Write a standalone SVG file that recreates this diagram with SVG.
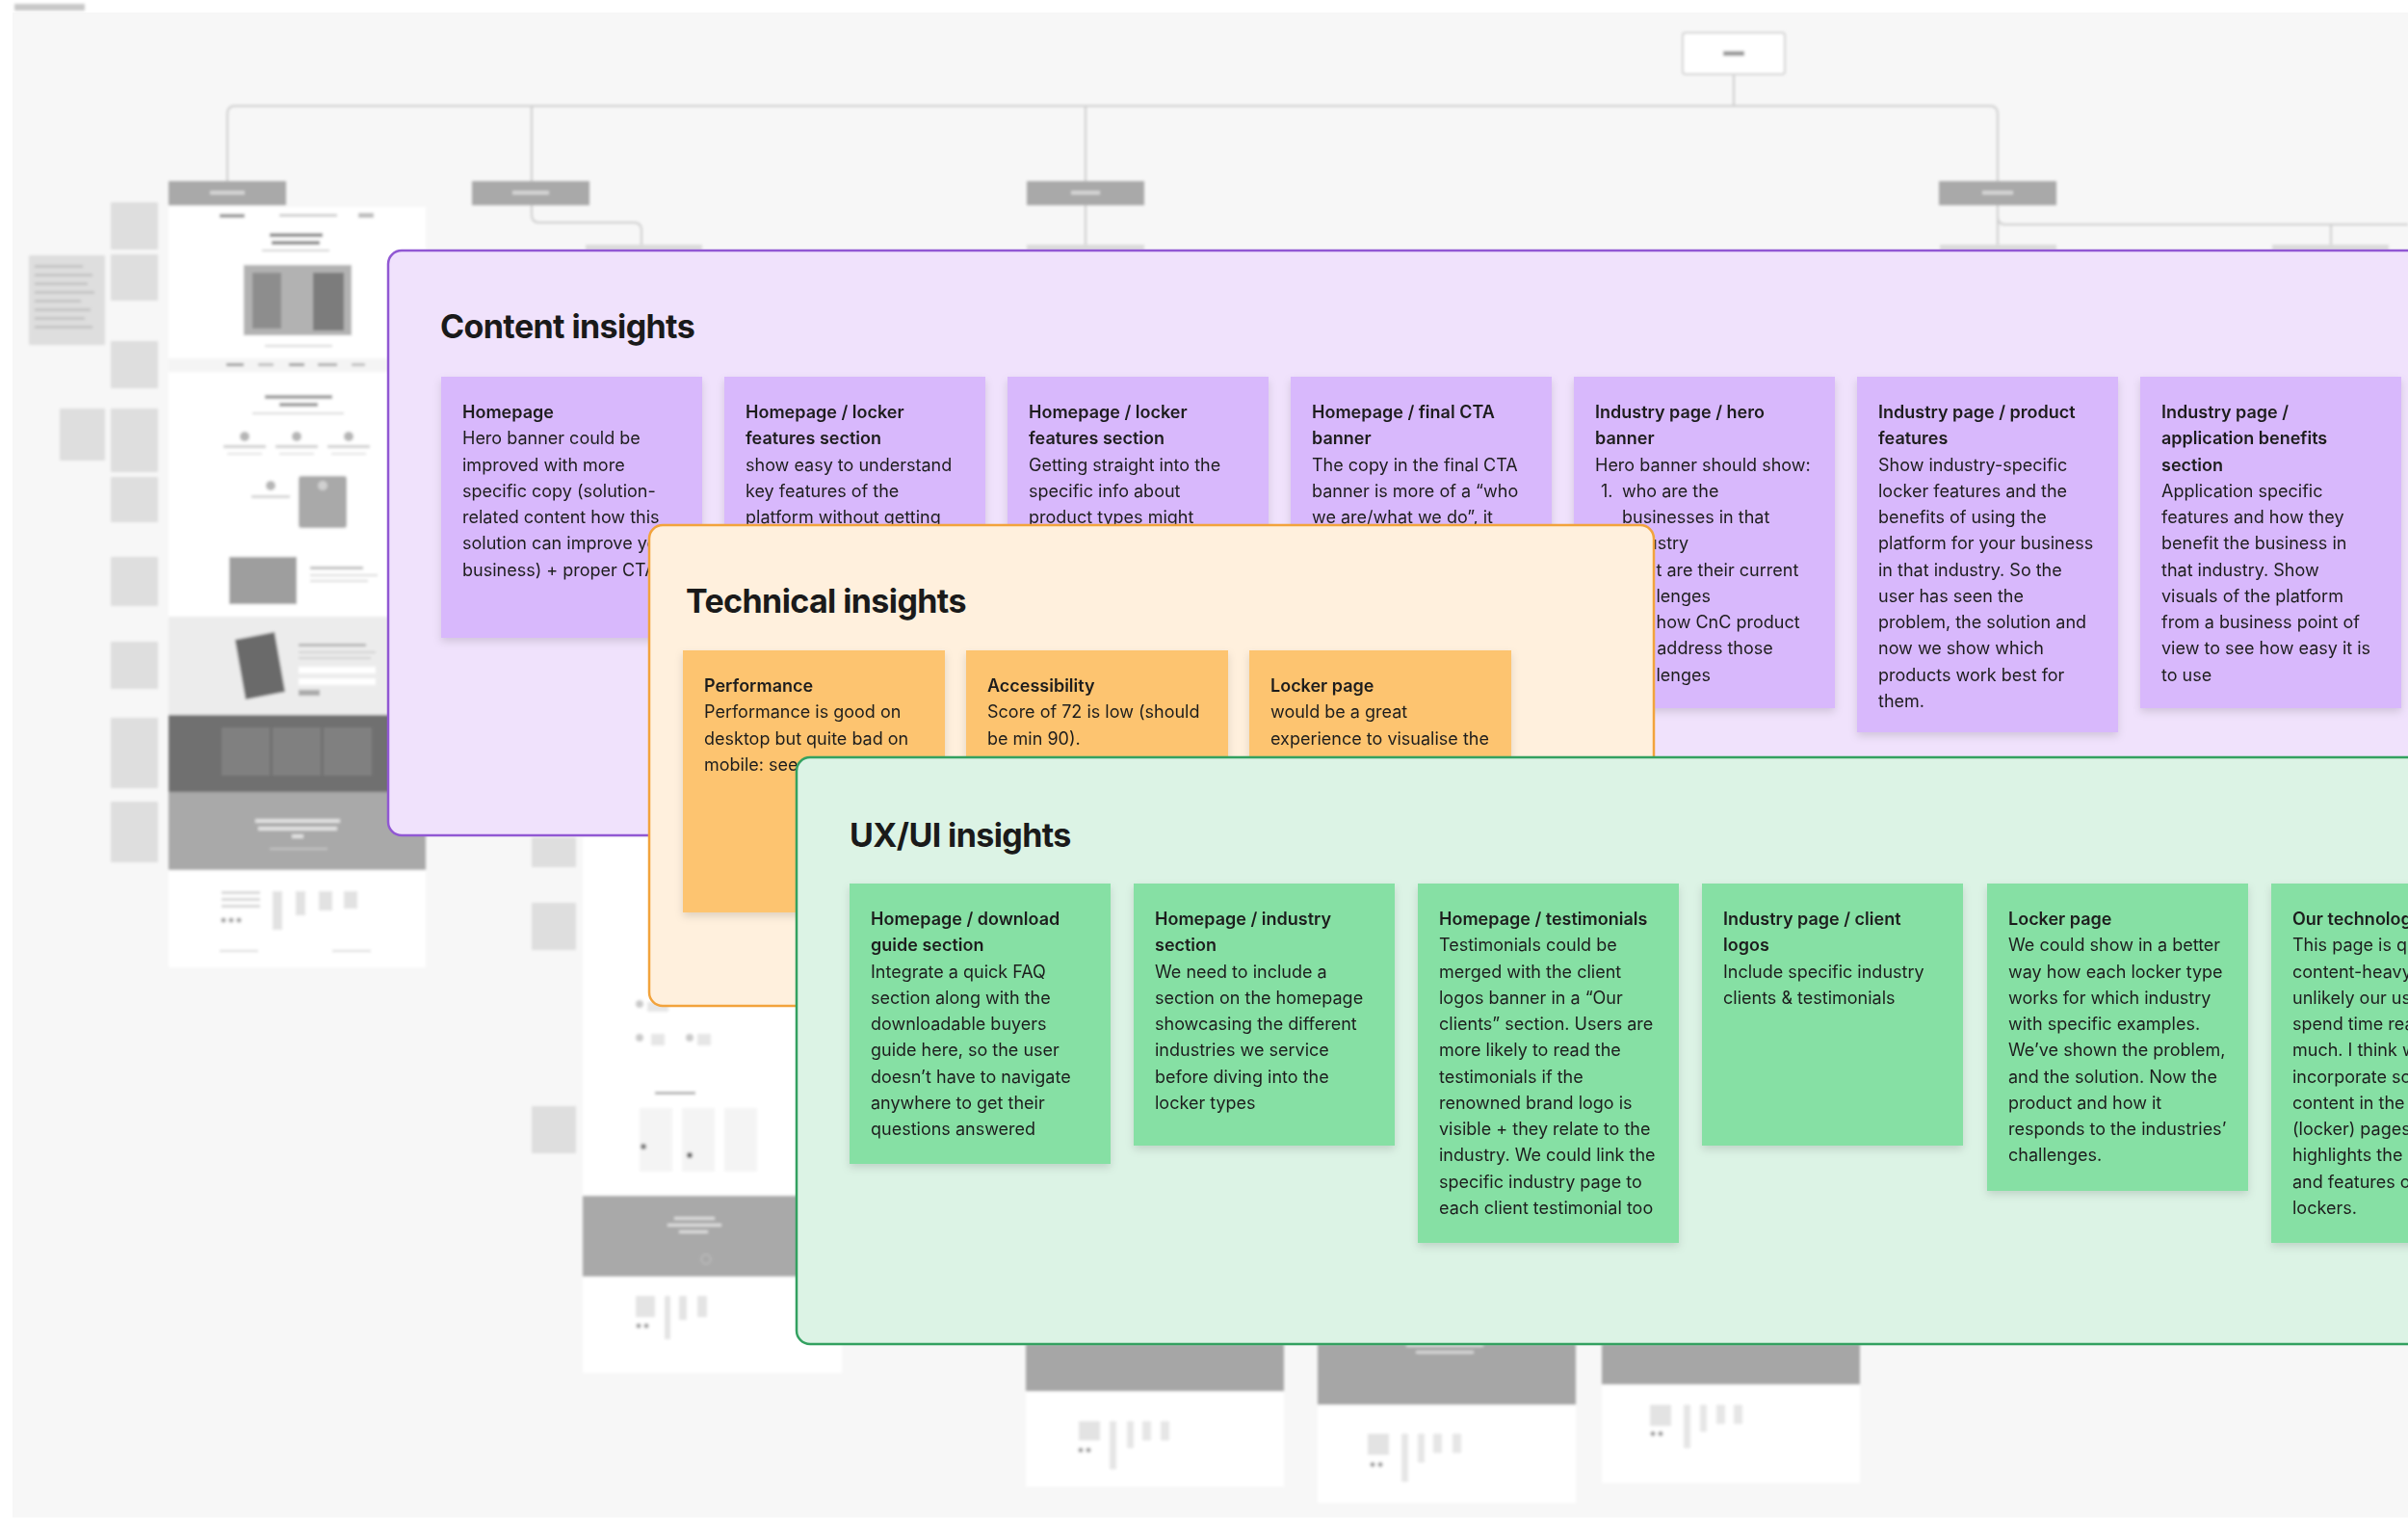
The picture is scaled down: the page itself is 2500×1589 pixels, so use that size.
<svg xmlns="http://www.w3.org/2000/svg" width="2500" height="1589" viewBox="0 0 2500 1589">
<style>
.t{font-family:Inter,"Liberation Sans",sans-serif;font-size:18px;fill:#1e1e1e}
.b{font-weight:600}
.h{font-family:Inter,"Liberation Sans",sans-serif;font-size:34px;font-weight:700;letter-spacing:-0.6px;fill:#1a1a1a}
.sp{fill:#d8b8fc}
.so{fill:#fdc46f}
.sg{fill:#86e0a4}
.ln{fill:none;stroke:#cdcdcd;stroke-width:2}
.nav{fill:#a9a9a9}
.ann{fill:#dedede}
.annl{fill:#c4c4c4}
</style>
<defs>
<filter id="blur" x="-5%" y="-5%" width="110%" height="110%"><feGaussianBlur stdDeviation="1.8"/></filter>
<filter id="sh" x="-10%" y="-10%" width="120%" height="125%"><feDropShadow dx="0" dy="4" stdDeviation="4" flood-color="#000" flood-opacity="0.13"/></filter>
</defs>

<rect width="2500" height="1589" fill="#ffffff"/>
<rect x="13" y="13" width="2487" height="1562" fill="#f7f7f7"/>

<g id="sitemap-background" filter="url(#blur)">
  <rect x="15" y="4" width="73" height="7" fill="#c8c8c8"/>
  <g id="sitemap-connectors">
    <path class="ln" d="M1800 77 V110"/>
    <path class="ln" d="M236 188 V118 Q236 110 244 110 H2066 Q2074 110 2074 118 V188"/>
    <path class="ln" d="M552 110 V188"/>
    <path class="ln" d="M1127 110 V188"/>
    <path class="ln" d="M552 212 V223 Q552 231 560 231 H658 Q666 231 666 239 V258"/>
    <path class="ln" d="M1127 212 V258"/>
    <path class="ln" d="M2074 212 V258"/>
    <path class="ln" d="M2074 225 Q2074 233 2082 233 H2500"/>
    <path class="ln" d="M2420 233 V258"/>
  </g>
  <g id="node-home">
    <rect x="1747" y="34" width="106" height="43" rx="3" fill="#ffffff" stroke="#d3d3d3" stroke-width="2"/>
    <rect x="1789" y="53" width="22" height="5" fill="#9a9a9a"/>
  </g>
  <g id="node-homepage"><rect class="nav" x="175" y="188" width="122" height="25"/><rect x="218" y="198" width="36" height="4" fill="#d6d6d6"/></g>
  <g id="node-solutions"><rect class="nav" x="490" y="188" width="122" height="25"/><rect x="532" y="198" width="38" height="4" fill="#d6d6d6"/></g>
  <g id="node-lockers"><rect class="nav" x="1066" y="188" width="122" height="25"/><rect x="1112" y="198" width="30" height="4" fill="#d6d6d6"/></g>
  <g id="node-about"><rect class="nav" x="2013" y="188" width="122" height="25"/><rect x="2058" y="198" width="32" height="4" fill="#d6d6d6"/></g>
  <rect x="608" y="254" width="121" height="6" fill="#dadada"/>
  <rect x="1066" y="254" width="122" height="6" fill="#dadada"/>
  <rect x="2014" y="254" width="121" height="6" fill="#dadada"/>
  <rect x="2359" y="254" width="121" height="6" fill="#dadada"/>

  <g id="annotations-home">
    <rect class="ann" x="30" y="265" width="79" height="93"/>
    <rect class="annl" x="36" y="275" width="50" height="3"/><rect class="annl" x="36" y="284" width="60" height="3"/><rect class="annl" x="36" y="293" width="55" height="3"/><rect class="annl" x="36" y="302" width="62" height="3"/><rect class="annl" x="36" y="311" width="48" height="3"/><rect class="annl" x="36" y="320" width="58" height="3"/><rect class="annl" x="36" y="329" width="52" height="3"/><rect class="annl" x="36" y="338" width="60" height="3"/>
    <rect class="ann" x="62" y="424" width="47" height="54"/>
    <rect class="ann" x="115" y="210" width="49" height="49"/>
    <rect class="ann" x="115" y="264" width="49" height="48"/>
    <rect class="ann" x="115" y="354" width="49" height="49"/>
    <rect class="ann" x="115" y="424" width="49" height="66"/>
    <rect class="ann" x="115" y="495" width="49" height="47"/>
    <rect class="ann" x="115" y="578" width="49" height="51"/>
    <rect class="ann" x="115" y="666" width="49" height="49"/>
    <rect class="ann" x="115" y="745" width="49" height="73"/>
    <rect class="ann" x="115" y="832" width="49" height="63"/>
  </g>
  <g id="page-home">
    <rect x="175" y="215" width="267" height="789" fill="#ffffff"/>
    <rect x="228" y="222" width="26" height="4" fill="#9a9a9a"/>
    <rect x="290" y="222" width="60" height="3" fill="#cfcfcf"/>
    <rect x="372" y="221" width="16" height="5" fill="#bdbdbd"/>
    <rect x="280" y="242" width="55" height="4" fill="#8c8c8c"/>
    <rect x="282" y="250" width="50" height="4" fill="#8c8c8c"/>
    <rect x="272" y="259" width="70" height="2" fill="#d0d0d0"/>
    <rect x="253" y="275" width="112" height="73" fill="#b2b2b2"/>
    <rect x="262" y="283" width="30" height="58" fill="#8d8d8d"/>
    <rect x="325" y="283" width="32" height="60" fill="#7c7c7c"/>
    <rect x="275" y="358" width="70" height="2" fill="#d5d5d5"/>
    <rect x="175" y="372" width="267" height="14" fill="#f4f4f4"/>
    <rect x="235" y="377" width="18" height="3" fill="#9a9a9a"/><rect x="268" y="377" width="16" height="3" fill="#bdbdbd"/><rect x="300" y="377" width="16" height="3" fill="#9a9a9a"/><rect x="330" y="377" width="20" height="3" fill="#aaaaaa"/><rect x="365" y="377" width="14" height="3" fill="#bdbdbd"/>
    <rect x="275" y="410" width="70" height="4" fill="#9d9d9d"/>
    <rect x="290" y="418" width="40" height="4" fill="#9d9d9d"/>
    <rect x="262" y="428" width="95" height="2" fill="#d8d8d8"/>
    <circle cx="254" cy="453" r="5" fill="#b5b5b5"/><circle cx="308" cy="453" r="5" fill="#b5b5b5"/><circle cx="362" cy="453" r="5" fill="#b5b5b5"/>
    <rect x="232" y="462" width="44" height="3" fill="#cfcfcf"/><rect x="286" y="462" width="44" height="3" fill="#cfcfcf"/><rect x="340" y="462" width="44" height="3" fill="#cfcfcf"/>
    <rect x="236" y="470" width="36" height="2" fill="#e0e0e0"/><rect x="290" y="470" width="36" height="2" fill="#e0e0e0"/><rect x="344" y="470" width="36" height="2" fill="#e0e0e0"/>
    <circle cx="281" cy="504" r="5" fill="#b5b5b5"/>
    <rect x="261" y="514" width="40" height="3" fill="#d4d4d4"/>
    <rect x="310" y="494" width="50" height="54" rx="3" fill="#a9a9a9"/>
    <circle cx="335" cy="504" r="5" fill="#d0d0d0"/>
    <rect x="238" y="578" width="70" height="49" fill="#9e9e9e"/>
    <rect x="322" y="588" width="55" height="3" fill="#bdbdbd"/><rect x="322" y="596" width="70" height="2" fill="#d8d8d8"/><rect x="322" y="602" width="60" height="2" fill="#d8d8d8"/>
    <rect x="175" y="640" width="267" height="102" fill="#ececec"/>
    <path d="M244 664 L285 656 L296 718 L255 726 Z" fill="#6a6a6a"/>
    <rect x="310" y="668" width="70" height="3" fill="#b5b5b5"/><rect x="310" y="676" width="80" height="2" fill="#d0d0d0"/><rect x="310" y="682" width="75" height="2" fill="#d0d0d0"/>
    <rect x="310" y="692" width="80" height="7" fill="#ffffff"/><rect x="310" y="704" width="80" height="7" fill="#ffffff"/>
    <rect x="310" y="716" width="22" height="6" fill="#aaaaaa"/>
    <rect x="175" y="742" width="267" height="80" fill="#707070"/>
    <rect x="230" y="755" width="50" height="50" fill="#808080"/><rect x="283" y="755" width="50" height="50" fill="#808080"/><rect x="336" y="755" width="50" height="50" fill="#808080"/>
    <rect x="175" y="822" width="267" height="81" fill="#a9a9a9"/>
    <rect x="265" y="850" width="88" height="4" fill="#e2e2e2"/><rect x="268" y="858" width="82" height="4" fill="#e2e2e2"/><rect x="303" y="866" width="12" height="4" fill="#e2e2e2"/>
    <rect x="280" y="880" width="60" height="2" fill="#c5c5c5"/>
    <rect x="230" y="925" width="40" height="3" fill="#d6d6d6"/><rect x="230" y="932" width="40" height="3" fill="#d6d6d6"/><rect x="230" y="939" width="40" height="3" fill="#d6d6d6"/>
    <rect x="283" y="925" width="10" height="40" fill="#e2e2e2"/><rect x="307" y="925" width="10" height="25" fill="#e2e2e2"/><rect x="331" y="925" width="14" height="20" fill="#e2e2e2"/><rect x="357" y="925" width="14" height="18" fill="#e2e2e2"/>
    <circle cx="232" cy="955" r="2.5" fill="#9d9d9d"/><circle cx="240" cy="955" r="2.5" fill="#9d9d9d"/><circle cx="248" cy="955" r="2.5" fill="#9d9d9d"/>
    <rect x="228" y="986" width="40" height="2" fill="#dadada"/><rect x="345" y="986" width="40" height="2" fill="#dadada"/>
  </g>
  <g id="annotations-solutions">
    <rect class="ann" x="552" y="869" width="46" height="31"/>
    <rect class="ann" x="552" y="937" width="46" height="49"/>
    <rect class="ann" x="552" y="1148" width="46" height="49"/>
  </g>
  <g id="page-solutions">
    <rect x="605" y="869" width="269" height="556" fill="#ffffff"/>
    <circle cx="664" cy="1042" r="4" fill="#c9c9c9"/><circle cx="664" cy="1077" r="4" fill="#c9c9c9"/><circle cx="716" cy="1077" r="4" fill="#c9c9c9"/>
    <rect x="672" y="1040" width="22" height="10" fill="#e6e6e6"/><rect x="676" y="1073" width="14" height="12" fill="#e6e6e6"/><rect x="724" y="1073" width="14" height="12" fill="#e6e6e6"/>
    <rect x="680" y="1133" width="42" height="3" fill="#b0b0b0"/>
    <rect x="664" y="1150" width="34" height="66" fill="#f4f4f4"/><rect x="708" y="1150" width="34" height="66" fill="#f4f4f4"/><rect x="752" y="1150" width="34" height="66" fill="#f4f4f4"/>
    <circle cx="668" cy="1190" r="3" fill="#7a7a7a"/><circle cx="716" cy="1199" r="3" fill="#6a6a6a"/>
    <rect x="605" y="1241" width="269" height="84" fill="#a9a9a9"/>
    <rect x="700" y="1263" width="42" height="3" fill="#dedede"/><rect x="693" y="1270" width="56" height="3" fill="#dedede"/><rect x="705" y="1277" width="30" height="3" fill="#dedede"/>
    <circle cx="733" cy="1307" r="5" fill="none" stroke="#c8c8c8"/>
    <rect x="660" y="1345" width="20" height="22" fill="#e4e4e4"/><rect x="690" y="1345" width="6" height="45" fill="#e4e4e4"/><rect x="705" y="1345" width="8" height="25" fill="#e4e4e4"/><rect x="724" y="1345" width="10" height="22" fill="#e4e4e4"/>
    <circle cx="663" cy="1376" r="2.5" fill="#9d9d9d"/><circle cx="671" cy="1376" r="2.5" fill="#9d9d9d"/>
  </g>
  <g id="pages-lockers">
    <rect x="1065" y="1395" width="268" height="148" fill="#ffffff"/>
    <rect x="1065" y="1395" width="268" height="49" fill="#a6a6a6"/>
    <rect x="1120" y="1475" width="22" height="20" fill="#e3e3e3"/><rect x="1152" y="1475" width="7" height="50" fill="#e6e6e6"/><rect x="1170" y="1475" width="7" height="28" fill="#e6e6e6"/><rect x="1186" y="1475" width="9" height="20" fill="#e6e6e6"/><rect x="1205" y="1475" width="9" height="20" fill="#e6e6e6"/>
    <circle cx="1122" cy="1505" r="2.5" fill="#9a9a9a"/><circle cx="1130" cy="1505" r="2.5" fill="#9a9a9a"/>
    <rect x="1368" y="1395" width="268" height="165" fill="#ffffff"/>
    <rect x="1368" y="1395" width="268" height="63" fill="#a6a6a6"/>
    <rect x="1460" y="1395" width="80" height="3" fill="#d8d8d8"/><rect x="1470" y="1402" width="60" height="3" fill="#d8d8d8"/>
    <rect x="1420" y="1488" width="22" height="22" fill="#e3e3e3"/><rect x="1455" y="1488" width="7" height="50" fill="#e6e6e6"/><rect x="1472" y="1488" width="7" height="30" fill="#e6e6e6"/><rect x="1488" y="1488" width="9" height="20" fill="#e6e6e6"/><rect x="1508" y="1488" width="9" height="20" fill="#e6e6e6"/>
    <circle cx="1425" cy="1520" r="2.5" fill="#9a9a9a"/><circle cx="1433" cy="1520" r="2.5" fill="#9a9a9a"/>
    <rect x="1663" y="1395" width="268" height="144" fill="#ffffff"/>
    <rect x="1663" y="1395" width="268" height="42" fill="#a6a6a6"/>
    <rect x="1713" y="1458" width="22" height="22" fill="#e3e3e3"/><rect x="1748" y="1458" width="7" height="45" fill="#e6e6e6"/><rect x="1765" y="1458" width="7" height="28" fill="#e6e6e6"/><rect x="1782" y="1458" width="9" height="20" fill="#e6e6e6"/><rect x="1800" y="1458" width="9" height="20" fill="#e6e6e6"/>
    <circle cx="1716" cy="1488" r="2.5" fill="#9a9a9a"/><circle cx="1724" cy="1488" r="2.5" fill="#9a9a9a"/>
  </g>
</g>

<g id="panel-content">
  <rect x="403" y="260" width="2140" height="607" rx="14" fill="#f0e2fc" stroke="#9158d3" stroke-width="2.5"/>
  <text class="h" x="457" y="351">Content insights</text>
  <g id="c1" filter="url(#sh)"><rect class="sp" x="458" y="391" width="271" height="271"/>
    <text class="t" x="480" y="434"><tspan class="b">Homepage</tspan><tspan x="480" dy="27.25">Hero banner could be</tspan><tspan x="480" dy="27.25">improved with more</tspan><tspan x="480" dy="27.25">specific copy (solution-</tspan><tspan x="480" dy="27.25">related content how this</tspan><tspan x="480" dy="27.25">solution can improve your</tspan><tspan x="480" dy="27.25">business) + proper CTA</tspan></text></g>
  <g id="c2" filter="url(#sh)"><rect class="sp" x="752" y="391" width="271" height="300"/>
    <text class="t" x="774" y="434"><tspan class="b">Homepage / locker</tspan><tspan class="b" x="774" dy="27.25">features section</tspan><tspan x="774" dy="27.25">show easy to understand</tspan><tspan x="774" dy="27.25">key features of the</tspan><tspan x="774" dy="27.25">platform without getting</tspan></text></g>
  <g id="c3" filter="url(#sh)"><rect class="sp" x="1046" y="391" width="271" height="300"/>
    <text class="t" x="1068" y="434"><tspan class="b">Homepage / locker</tspan><tspan class="b" x="1068" dy="27.25">features section</tspan><tspan x="1068" dy="27.25">Getting straight into the</tspan><tspan x="1068" dy="27.25">specific info about</tspan><tspan x="1068" dy="27.25">product types might</tspan></text></g>
  <g id="c4" filter="url(#sh)"><rect class="sp" x="1340" y="391" width="271" height="300"/>
    <text class="t" x="1362" y="434"><tspan class="b">Homepage / final CTA</tspan><tspan class="b" x="1362" dy="27.25">banner</tspan><tspan x="1362" dy="27.25">The copy in the final CTA</tspan><tspan x="1362" dy="27.25">banner is more of a “who</tspan><tspan x="1362" dy="27.25">we are/what we do”, it</tspan></text></g>
  <g id="c5" filter="url(#sh)"><rect class="sp" x="1634" y="391" width="271" height="344"/>
    <text class="t" x="1656" y="434"><tspan class="b">Industry page / hero</tspan><tspan class="b" x="1656" dy="27.25">banner</tspan><tspan x="1656" dy="27.25">Hero banner should show:</tspan></text>
    <text class="t" x="1662" y="515.75">1.</text><text class="t" x="1662" y="597.5">2.</text><text class="t" x="1662" y="652">3.</text>
    <text class="t" x="1684" y="515.75"><tspan>who are the</tspan><tspan x="1684" dy="27.25">businesses in that</tspan><tspan x="1684" dy="27.25">industry</tspan><tspan x="1684" dy="27.25">what are their current</tspan><tspan x="1684" dy="27.25">challenges</tspan><tspan x="1684" dy="27.25">see how CnC product</tspan><tspan x="1684" dy="27.25">can address those</tspan><tspan x="1684" dy="27.25">challenges</tspan></text></g>
  <g id="c6" filter="url(#sh)"><rect class="sp" x="1928" y="391" width="271" height="369"/>
    <text class="t" x="1950" y="434"><tspan class="b">Industry page / product</tspan><tspan class="b" x="1950" dy="27.25">features</tspan><tspan x="1950" dy="27.25">Show industry-specific</tspan><tspan x="1950" dy="27.25">locker features and the</tspan><tspan x="1950" dy="27.25">benefits of using the</tspan><tspan x="1950" dy="27.25">platform for your business</tspan><tspan x="1950" dy="27.25">in that industry. So the</tspan><tspan x="1950" dy="27.25">user has seen the</tspan><tspan x="1950" dy="27.25">problem, the solution and</tspan><tspan x="1950" dy="27.25">now we show which</tspan><tspan x="1950" dy="27.25">products work best for</tspan><tspan x="1950" dy="27.25">them.</tspan></text></g>
  <g id="c7" filter="url(#sh)"><rect class="sp" x="2222" y="391" width="271" height="344"/>
    <text class="t" x="2244" y="434"><tspan class="b">Industry page /</tspan><tspan class="b" x="2244" dy="27.25">application benefits</tspan><tspan class="b" x="2244" dy="27.25">section</tspan><tspan x="2244" dy="27.25">Application specific</tspan><tspan x="2244" dy="27.25">features and how they</tspan><tspan x="2244" dy="27.25">benefit the business in</tspan><tspan x="2244" dy="27.25">that industry. Show</tspan><tspan x="2244" dy="27.25">visuals of the platform</tspan><tspan x="2244" dy="27.25">from a business point of</tspan><tspan x="2244" dy="27.25">view to see how easy it is</tspan><tspan x="2244" dy="27.25">to use</tspan></text></g>
</g>

<g id="panel-technical">
  <rect x="674" y="545" width="1043" height="499" rx="14" fill="#fff0dd" stroke="#f2a33c" stroke-width="2.5"/>
  <text class="h" x="712" y="636">Technical insights</text>
  <g id="t1" filter="url(#sh)"><rect class="so" x="709" y="675" width="272" height="272"/>
    <text class="t" x="731" y="718"><tspan class="b">Performance</tspan><tspan x="731" dy="27.25">Performance is good on</tspan><tspan x="731" dy="27.25">desktop but quite bad on</tspan><tspan x="731" dy="27.25">mobile: see</tspan></text></g>
  <g id="t2" filter="url(#sh)"><rect class="so" x="1003" y="675" width="272" height="272"/>
    <text class="t" x="1025" y="718"><tspan class="b">Accessibility</tspan><tspan x="1025" dy="27.25">Score of 72 is low (should</tspan><tspan x="1025" dy="27.25">be min 90).</tspan></text></g>
  <g id="t3" filter="url(#sh)"><rect class="so" x="1297" y="675" width="272" height="272"/>
    <text class="t" x="1319" y="718"><tspan class="b">Locker page</tspan><tspan x="1319" dy="27.25">would be a great</tspan><tspan x="1319" dy="27.25">experience to visualise the</tspan></text></g>
</g>

<g id="panel-uxui">
  <rect x="827" y="786" width="1720" height="609" rx="14" fill="#dcf3e5" stroke="#33a160" stroke-width="2.5"/>
  <text class="h" x="882" y="879">UX/UI insights</text>
  <g id="u1" filter="url(#sh)"><rect class="sg" x="882" y="917" width="271" height="291"/>
    <text class="t" x="904" y="960"><tspan class="b">Homepage / download</tspan><tspan class="b" x="904" dy="27.25">guide section</tspan><tspan x="904" dy="27.25">Integrate a quick FAQ</tspan><tspan x="904" dy="27.25">section along with the</tspan><tspan x="904" dy="27.25">downloadable buyers</tspan><tspan x="904" dy="27.25">guide here, so the user</tspan><tspan x="904" dy="27.25">doesn’t have to navigate</tspan><tspan x="904" dy="27.25">anywhere to get their</tspan><tspan x="904" dy="27.25">questions answered</tspan></text></g>
  <g id="u2" filter="url(#sh)"><rect class="sg" x="1177" y="917" width="271" height="272"/>
    <text class="t" x="1199" y="960"><tspan class="b">Homepage / industry</tspan><tspan class="b" x="1199" dy="27.25">section</tspan><tspan x="1199" dy="27.25">We need to include a</tspan><tspan x="1199" dy="27.25">section on the homepage</tspan><tspan x="1199" dy="27.25">showcasing the different</tspan><tspan x="1199" dy="27.25">industries we service</tspan><tspan x="1199" dy="27.25">before diving into the</tspan><tspan x="1199" dy="27.25">locker types</tspan></text></g>
  <g id="u3" filter="url(#sh)"><rect class="sg" x="1472" y="917" width="271" height="373"/>
    <text class="t" x="1494" y="960"><tspan class="b">Homepage / testimonials</tspan><tspan x="1494" dy="27.25">Testimonials could be</tspan><tspan x="1494" dy="27.25">merged with the client</tspan><tspan x="1494" dy="27.25">logos banner in a “Our</tspan><tspan x="1494" dy="27.25">clients” section. Users are</tspan><tspan x="1494" dy="27.25">more likely to read the</tspan><tspan x="1494" dy="27.25">testimonials if the</tspan><tspan x="1494" dy="27.25">renowned brand logo is</tspan><tspan x="1494" dy="27.25">visible + they relate to the</tspan><tspan x="1494" dy="27.25">industry. We could link the</tspan><tspan x="1494" dy="27.25">specific industry page to</tspan><tspan x="1494" dy="27.25">each client testimonial too</tspan></text></g>
  <g id="u4" filter="url(#sh)"><rect class="sg" x="1767" y="917" width="271" height="272"/>
    <text class="t" x="1789" y="960"><tspan class="b">Industry page / client</tspan><tspan class="b" x="1789" dy="27.25">logos</tspan><tspan x="1789" dy="27.25">Include specific industry</tspan><tspan x="1789" dy="27.25">clients &amp; testimonials</tspan></text></g>
  <g id="u5" filter="url(#sh)"><rect class="sg" x="2063" y="917" width="271" height="319"/>
    <text class="t" x="2085" y="960"><tspan class="b">Locker page</tspan><tspan x="2085" dy="27.25">We could show in a better</tspan><tspan x="2085" dy="27.25">way how each locker type</tspan><tspan x="2085" dy="27.25">works for which industry</tspan><tspan x="2085" dy="27.25">with specific examples.</tspan><tspan x="2085" dy="27.25">We’ve shown the problem,</tspan><tspan x="2085" dy="27.25">and the solution. Now the</tspan><tspan x="2085" dy="27.25">product and how it</tspan><tspan x="2085" dy="27.25">responds to the industries’</tspan><tspan x="2085" dy="27.25">challenges.</tspan></text></g>
  <g id="u6" filter="url(#sh)"><rect class="sg" x="2358" y="917" width="271" height="373"/>
    <text class="t" x="2380" y="960"><tspan class="b">Our technology</tspan><tspan x="2380" dy="27.25">This page is quite</tspan><tspan x="2380" dy="27.25">content-heavy</tspan><tspan x="2380" dy="27.25">unlikely our users</tspan><tspan x="2380" dy="27.25">spend time reading</tspan><tspan x="2380" dy="27.25">much. I think we</tspan><tspan x="2380" dy="27.25">incorporate some</tspan><tspan x="2380" dy="27.25">content in the</tspan><tspan x="2380" dy="27.25">(locker) pages</tspan><tspan x="2380" dy="27.25">highlights the</tspan><tspan x="2380" dy="27.25">and features of</tspan><tspan x="2380" dy="27.25">lockers.</tspan></text></g>
</g>
</svg>
